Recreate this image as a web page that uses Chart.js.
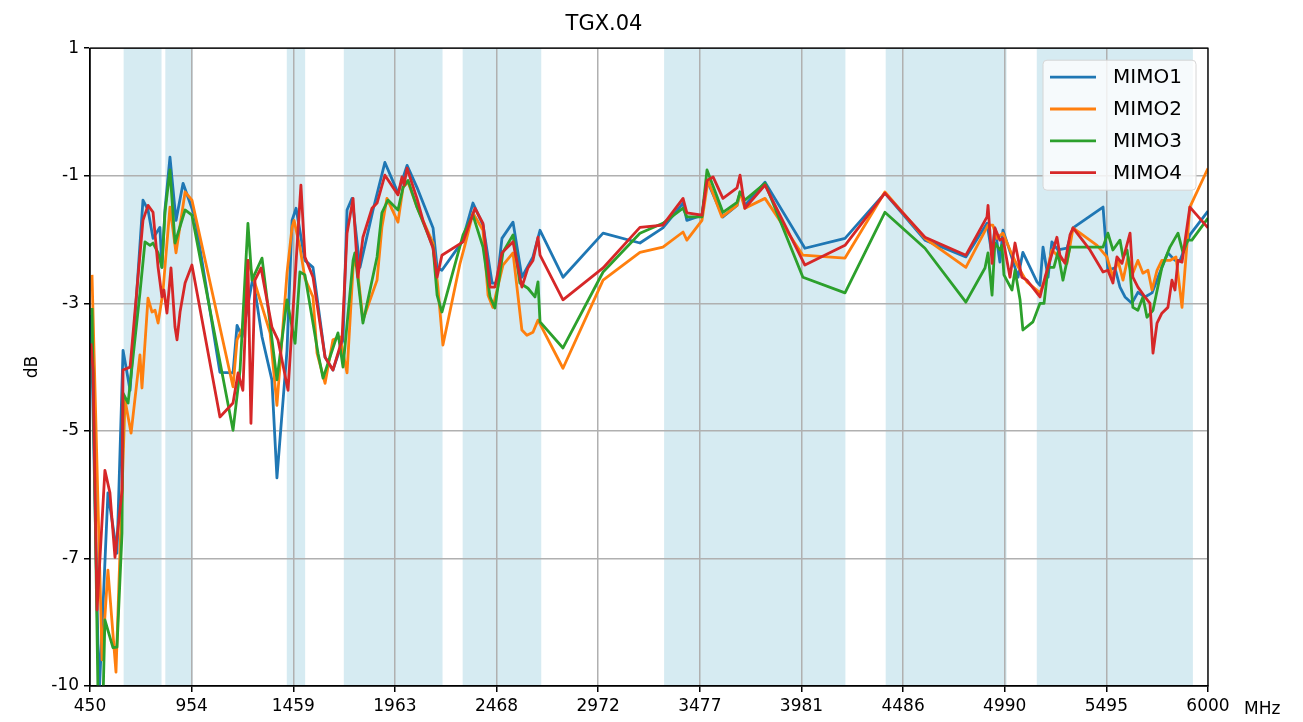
<!DOCTYPE html>
<html>
<head>
<meta charset="utf-8">
<title>TGX.04</title>
<script src="https://cdn.jsdelivr.net/npm/chart.js@4.4.1/dist/chart.umd.min.js"></script>
<style>
    html, body { margin: 0; padding: 0; background: #ffffff; }
    #wrap { width: 1303px; height: 722px; }
</style>
</head>
<body>
<div id="wrap"><canvas id="tgxChart" width="1303" height="722"></canvas></div>
<script>
// Axis ticks (linspace positions, labels truncated to int like the original)
const xTickValues = [450, 954.5, 1459.1, 1963.6, 2468.2, 2972.7, 3477.3, 3981.8, 4486.4, 4990.9, 5495.5, 6000];
const xTickLabels = ['450', '954', '1459', '1963', '2468', '2972', '3477', '3981', '4486', '4990', '5495', '6000'];
const yTickValues = [1, -1.2, -3.4, -5.6, -7.8, -10];
const yTickLabels = ['1', '-1', '-3', '-5', '-7', '-10'];

// Shaded frequency bands (MHz)
const bandStarts = [617, 824, 1427, 1710, 2300, 3300, 4400, 5150];
const bandEnds = [805, 960, 1518, 2200, 2690, 4200, 5000, 5925];

const seriesNames = ['MIMO1', 'MIMO2', 'MIMO3', 'MIMO4'];
const seriesColors = ['#1f77b4', '#ff7f0e', '#2ca02c', '#d62728'];

// MIMO1
const mimo1Freq = [455, 495, 539, 584, 614, 649, 713, 738, 763, 797, 807, 822, 847, 877, 912, 971,
    1095, 1160, 1180, 1205, 1259, 1304, 1353, 1378, 1428, 1453, 1473, 1517, 1557, 1617, 1656, 1706,
    1726, 1751, 1790, 1855, 1914, 1979, 2024, 2073, 2153, 2173, 2197, 2297, 2351, 2401, 2446, 2470,
    2495, 2550, 2594, 2649, 2684, 2798, 2997, 3180, 3294, 3394, 3413, 3488, 3513, 3592, 3662, 3677,
    3701, 3801, 3999, 4198, 4396, 4595, 4798, 4903, 4928, 4942, 4967, 4982, 5007, 5057, 5081, 5151,
    5166, 5181, 5206, 5225, 5255, 5300, 5330, 5479, 5503, 5538, 5563, 5588, 5622, 5652, 5687, 5722,
    5771, 5801, 5836, 5861, 5910, 6000];
const mimo1Db = [-3.60, -10.2, -6.67, -7.71, -4.21, -4.90, -1.62, -1.79, -2.28, -2.09, -2.78, -1.79, -0.88, -1.97, -1.33, -1.91,
    -4.59, -4.60, -3.78, -3.98, -2.95, -3.98, -4.72, -6.41, -4.21, -1.97, -1.76, -2.66, -2.78, -4.33, -4.55, -4.03,
    -1.79, -1.59, -2.78, -1.79, -0.97, -1.50, -1.02, -1.40, -2.10, -2.78, -2.83, -2.34, -1.67, -2.05, -3.05, -3.05,
    -2.28, -2.00, -2.95, -2.60, -2.14, -2.95, -2.19, -2.36, -2.10, -1.67, -1.97, -1.88, -1.28, -1.91, -1.71, -1.48,
    -1.71, -1.31, -2.45, -2.28, -1.50, -2.31, -2.60, -2.02, -2.57, -2.10, -2.69, -2.14, -2.40, -2.95, -2.52, -3.03,
    -3.09, -2.43, -2.95, -2.34, -2.48, -2.45, -2.10, -1.74, -2.83, -2.79, -3.12, -3.29, -3.40, -3.21, -3.29, -3.22,
    -2.78, -2.53, -2.66, -2.66, -2.22, -1.81];

// MIMO2
const mimo2Freq = [460, 510, 539, 579, 624, 654, 698, 708, 738, 758, 773, 788, 812, 822, 847, 877, 922, 956,
    1160, 1180, 1209, 1234, 1279, 1344, 1378, 1428, 1453, 1463, 1492, 1517, 1557, 1577, 1617, 1656, 1691,
    1726, 1756, 1770, 1805, 1875, 1899, 1924, 1979, 2004, 2029, 2073, 2153, 2177, 2202, 2287, 2311, 2351,
    2401, 2426, 2450, 2500, 2550, 2594, 2619, 2649, 2674, 2798, 2997, 3180, 3294, 3394, 3413, 3488, 3518,
    3587, 3662, 3677, 3701, 3801, 3989, 4198, 4396, 4595, 4798, 4908, 4932, 4952, 4982, 5017, 5052, 5101,
    5166, 5191, 5225, 5265, 5300, 5330, 5449, 5498, 5528, 5553, 5578, 5603, 5627, 5652, 5677, 5702, 5722,
    5747, 5771, 5811, 5841, 5871, 5910, 6000];
const mimo2Db = [-2.91, -9.55, -8.00, -9.76, -5.07, -5.64, -4.29, -4.86, -3.31, -3.55, -3.52, -3.74, -3.21, -2.78, -1.74, -2.53, -1.48, -1.62,
    -4.84, -4.03, -3.81, -2.66, -3.17, -3.91, -5.16, -2.88, -2.09, -1.97, -2.43, -2.97, -3.29, -4.26, -4.78, -4.03, -3.98,
    -4.60, -2.78, -2.57, -3.69, -3.00, -2.09, -1.59, -2.00, -1.40, -1.31, -1.74, -2.36, -3.12, -4.12, -2.71, -2.40, -1.84,
    -2.14, -3.26, -3.47, -2.74, -2.53, -3.86, -3.95, -3.90, -3.69, -4.52, -3.00, -2.52, -2.43, -2.17, -2.31, -1.97, -1.28,
    -1.91, -1.71, -1.48, -1.76, -1.59, -2.57, -2.62, -1.48, -2.28, -2.78, -2.05, -2.05, -2.28, -2.19, -2.48, -2.74, -3.03,
    -3.22, -3.00, -2.48, -2.62, -2.71, -2.10, -2.40, -2.60, -2.95, -2.66, -3.00, -2.60, -2.88, -2.66, -2.88, -2.83, -3.17,
    -2.83, -2.66, -2.66, -2.60, -3.47, -1.74, -1.07];

// MIMO3
const mimo3Freq = [460, 490, 515, 524, 564, 584, 609, 614, 639, 698, 723, 748, 763, 788, 807, 822, 847, 872, 922, 956,
    1160, 1195, 1234, 1254, 1304, 1378, 1428, 1468, 1492, 1517, 1582, 1607, 1641, 1681, 1706, 1756, 1765,
    1805, 1875, 1899, 1929, 1979, 2004, 2029, 2073, 2153, 2173, 2197, 2302, 2351, 2401, 2436, 2460, 2500,
    2550, 2584, 2624, 2659, 2674, 2684, 2798, 2997, 3180, 3294, 3394, 3413, 3488, 3513, 3592, 3662, 3677,
    3701, 3801, 3989, 4198, 4396, 4595, 4798, 4893, 4908, 4928, 4942, 4967, 4977, 4987, 5027, 5042, 5067,
    5081, 5131, 5166, 5186, 5206, 5235, 5255, 5280, 5315, 5479, 5503, 5528, 5563, 5578, 5598, 5613, 5627,
    5652, 5677, 5697, 5727, 5771, 5811, 5851, 5876, 5900, 5920, 6000];
const mimo3Db = [-3.48, -10.2, -10.2, -8.86, -9.34, -9.33, -7.36, -4.95, -5.12, -3.22, -2.34, -2.40, -2.36, -2.53, -2.78, -1.84, -1.10, -2.36, -1.79, -1.88,
    -5.59, -4.55, -2.02, -3.00, -2.62, -4.72, -3.34, -4.09, -2.86, -2.91, -4.26, -4.69, -4.33, -3.91, -4.50, -2.66, -2.53,
    -3.74, -2.60, -1.84, -1.62, -1.79, -1.40, -1.28, -1.74, -2.43, -3.26, -3.55, -2.22, -1.88, -2.43, -3.29, -3.48, -2.52,
    -2.22, -3.05, -3.14, -3.29, -3.03, -3.72, -4.17, -2.86, -2.19, -2.02, -1.76, -1.91, -1.91, -1.10, -1.83, -1.66, -1.48,
    -1.62, -1.33, -2.95, -3.22, -1.83, -2.45, -3.38, -2.79, -2.53, -3.26, -2.36, -2.48, -2.40, -2.91, -3.17, -2.83, -3.34,
    -3.86, -3.72, -3.40, -3.40, -2.78, -2.78, -2.52, -3.00, -2.43, -2.43, -2.19, -2.48, -2.31, -2.60, -2.48, -2.83, -3.47,
    -3.52, -3.29, -3.64, -3.52, -2.78, -2.43, -2.19, -2.53, -2.31, -2.31, -1.93];

// MIMO4
const mimo4Freq = [455, 465, 485, 524, 549, 574, 609, 614, 649, 713, 738, 763, 788, 807, 817, 832, 852, 872, 882, 897, 922, 956,
    1095, 1160, 1185, 1209, 1234, 1249, 1269, 1299, 1353, 1383, 1433, 1497, 1517, 1557, 1617, 1656, 1701,
    1726, 1756, 1780, 1805, 1850, 1875, 1914, 1979, 1999, 2009, 2024, 2073, 2103, 2153, 2173, 2197, 2302,
    2361, 2401, 2436, 2460, 2495, 2550, 2594, 2624, 2649, 2674, 2684, 2798, 2997, 3180, 3294, 3394, 3413,
    3488, 3513, 3543, 3592, 3662, 3677, 3701, 3801, 3999, 4198, 4396, 4595, 4798, 4903, 4908, 4928, 4942,
    4967, 4982, 5017, 5042, 5076, 5101, 5166, 5191, 5216, 5250, 5265, 5290, 5315, 5330, 5414, 5479, 5503,
    5528, 5548, 5573, 5613, 5627, 5652, 5687, 5712, 5727, 5747, 5771, 5801, 5821, 5836, 5851, 5871, 5910, 6000];
const mimo4Db = [-4.09, -4.55, -8.69, -6.28, -6.67, -7.78, -6.62, -4.55, -4.50, -1.97, -1.71, -1.83, -2.78, -3.29, -3.17, -3.57, -2.79, -3.81, -4.03, -3.55, -3.05, -2.74,
    -5.36, -5.12, -4.60, -4.90, -2.66, -5.47, -3.00, -2.79, -3.81, -4.03, -4.90, -1.36, -2.60, -2.95, -4.33, -4.55, -4.03,
    -2.19, -1.59, -2.95, -2.26, -1.76, -1.67, -1.19, -1.53, -1.22, -1.36, -1.07, -1.59, -1.97, -2.45, -2.95, -2.57, -2.34,
    -1.76, -2.02, -3.12, -3.12, -2.53, -2.34, -3.12, -2.79, -2.66, -2.26, -2.57, -3.34, -2.79, -2.09, -2.05, -1.59, -1.84,
    -1.88, -1.28, -1.22, -1.59, -1.41, -1.19, -1.76, -1.36, -2.74, -2.40, -1.50, -2.26, -2.57, -1.91, -1.71, -2.71, -2.10,
    -2.31, -2.28, -2.95, -2.36, -2.95, -3.00, -3.29, -2.95, -2.66, -2.26, -2.57, -2.71, -2.22, -2.10, -2.48, -2.86, -2.83,
    -3.05, -2.60, -2.71, -2.19, -2.95, -3.12, -3.29, -3.40, -4.26, -3.74, -3.57, -3.47, -3.00, -3.17, -2.66, -2.69, -1.74, -2.10];

const seriesFreqs = [mimo1Freq, mimo2Freq, mimo3Freq, mimo4Freq];
const seriesDbs = [mimo1Db, mimo2Db, mimo3Db, mimo4Db];

const FONT = "'DejaVu Sans', sans-serif";

// Bands behind grid and lines
const bandPlugin = {
    id: 'bands',
    beforeDraw(chart) {
        const { ctx, chartArea, scales: { x } } = chart;
        ctx.save();
        ctx.fillStyle = 'rgba(173, 216, 230, 0.5)';
        bandStarts.forEach((start, i) => {
            const x0 = x.getPixelForValue(start);
            const x1 = x.getPixelForValue(bandEnds[i]);
            ctx.fillRect(x0, chartArea.top, x1 - x0, chartArea.bottom - chartArea.top);
        });
        ctx.restore();
    }
};

// Frame, matplotlib-like legend box and the MHz unit label
const overlayPlugin = {
    id: 'overlay',
    afterDraw(chart) {
        const { ctx, chartArea } = chart;
        ctx.save();

        ctx.strokeStyle = '#000';
        ctx.lineWidth = 1.3;
        ctx.strokeRect(chartArea.left, chartArea.top, chartArea.right - chartArea.left, chartArea.bottom - chartArea.top);

        // legend
        const boxW = 153, boxH = 130;
        const bx = chartArea.right - 12 - boxW;
        const by = chartArea.top + 12;
        ctx.beginPath();
        ctx.roundRect(bx, by, boxW, boxH, 4);
        ctx.fillStyle = 'rgba(255, 255, 255, 0.8)';
        ctx.fill();
        ctx.strokeStyle = '#d6d6d6';
        ctx.lineWidth = 1;
        ctx.stroke();

        ctx.font = '20px ' + FONT;
        ctx.textBaseline = 'middle';
        ctx.textAlign = 'left';
        seriesNames.forEach((name, i) => {
            const yy = by + 17 + i * 31.8;
            ctx.strokeStyle = seriesColors[i];
            ctx.lineWidth = 2.8;
            ctx.beginPath();
            ctx.moveTo(bx + 7, yy);
            ctx.lineTo(bx + 53, yy);
            ctx.stroke();
            ctx.fillStyle = '#000';
            ctx.fillText(name, bx + 70, yy + 1);
        });

        // unit label right of the x tick labels
        ctx.font = '17px ' + FONT;
        ctx.fillText('MHz', chartArea.right + 36, chartArea.bottom + 24);
        ctx.restore();
    }
};

const ctxTgx = document.getElementById('tgxChart').getContext('2d');

new Chart(ctxTgx, {
    type: 'line',
    data: {
        datasets: seriesNames.map((name, i) => ({
            label: name,
            data: seriesFreqs[i].map((f, j) => ({ x: f, y: seriesDbs[i][j] })),
            borderColor: seriesColors[i],
            backgroundColor: seriesColors[i],
            borderWidth: 2.8,
            borderJoinStyle: 'round',
            pointRadius: 0,
            tension: 0,
            clip: 0,
            order: 3 - i
        }))
    },
    options: {
        responsive: false,
        animation: false,
        devicePixelRatio: 1,
        layout: {
            padding: { left: 0, right: 95, top: 0, bottom: 0 }
        },
        plugins: {
            legend: { display: false },
            tooltip: { enabled: false },
            title: {
                display: true,
                text: 'TGX.04',
                color: '#000',
                font: { family: FONT, size: 21, weight: 'normal' },
                padding: { top: 12, bottom: 11 }
            }
        },
        scales: {
            x: {
                type: 'linear',
                min: 450,
                max: 6000,
                afterBuildTicks: axis => { axis.ticks = xTickValues.map(v => ({ value: v })); },
                afterFit: scale => { scale.height = 36; },
                ticks: {
                    callback: (value, index) => xTickLabels[index],
                    autoSkip: false,
                    maxRotation: 0,
                    color: '#000',
                    padding: 4,
                    font: { family: FONT, size: 17 }
                },
                grid: { color: '#b0b0b0', lineWidth: 1.5, tickColor: '#000', tickLength: 6 },
                border: { color: '#000', width: 1.3 }
            },
            y: {
                type: 'linear',
                min: -10,
                max: 1,
                afterBuildTicks: axis => { axis.ticks = yTickValues.map(v => ({ value: v })); },
                afterFit: scale => { scale.width = 90; },
                ticks: {
                    callback: (value, index) => yTickLabels[index],
                    autoSkip: false,
                    color: '#000',
                    padding: 5,
                    font: { family: FONT, size: 17 }
                },
                title: {
                    display: true,
                    text: 'dB',
                    color: '#000',
                    font: { family: FONT, size: 17 },
                    padding: { top: 22, bottom: 0 }
                },
                grid: { color: '#b0b0b0', lineWidth: 1.5, tickColor: '#000', tickLength: 6 },
                border: { color: '#000', width: 1.3 }
            }
        }
    },
    plugins: [bandPlugin, overlayPlugin]
});
</script>
</body>
</html>
